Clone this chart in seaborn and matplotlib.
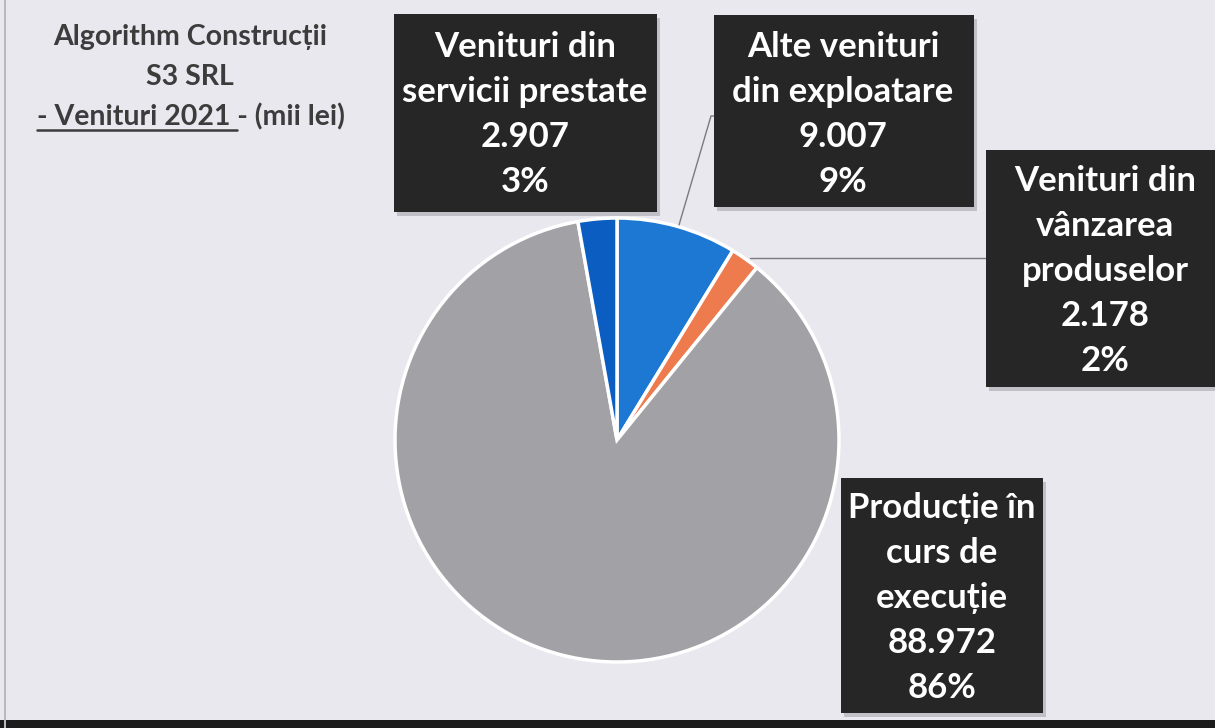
import matplotlib
matplotlib.use("Agg")
import matplotlib.pyplot as plt
import seaborn as sns
from matplotlib.patches import Rectangle
from matplotlib.lines import Line2D

# ---- data ----
categories = ["Alte venituri\ndin exploatare",
              "Venituri din\nvânzarea\nproduselor",
              "Producție în\ncurs de\nexecuție",
              "Venituri din\nservicii prestate"]
values = [9007, 2178, 88972, 2907]
colors = ["#1C78D2", "#EE7B4E", "#A2A2A6", "#0B5DC2"]
title_lines = ["Algorithm Construcții", "S3 SRL"]
title_sub_underlined = "- Venituri 2021 "
title_sub_rest = "- (mii lei)"

sns.set_theme(style="white")
plt.rcParams["font.family"] = ["Lato", "DejaVu Sans"]

W, H = 1215, 728
fig = plt.figure(figsize=(W / 100, H / 100), dpi=100)
bg = "#E8E8EE"
fig.patch.set_facecolor(bg)

def fx(x):
    return x / W

def fy(y):
    return 1 - y / H

# pie axes: centre (617, 440), radius 222 px
cx, cy, r = 617, 440, 222
ax = fig.add_axes([fx(cx - r), fy(cy + r), 2 * r / W, 2 * r / H])
ax.pie(values, colors=colors, startangle=90, counterclock=False,
       wedgeprops=dict(edgecolor="white", linewidth=2.5))
ax.set_xlim(-1, 1)
ax.set_ylim(-1, 1)
ax.set_aspect("equal")
ax.axis("off")

total = sum(values)

def fmt(v):
    return f"{v:,}".replace(",", ".")

# label boxes: (x0, y0, x1, y1, text centre x, first baseline)
boxes = {
    0: (714, 15, 974, 207, 843, 57),
    1: (986, 150, 1215, 387, 1105, 191),
    2: (841, 478, 1043, 713, 942, 518),
    3: (394, 14, 657, 212, 525, 57),
}
step = 45
for i, (x0, y0, x1, y1, tx, b0) in boxes.items():
    fig.patches.append(Rectangle((fx(x0 + 3), fy(y1 + 4)), (x1 - x0) / W, (y1 - y0) / H,
                                 transform=fig.transFigure, facecolor="#9a9aa0",
                                 edgecolor="none", alpha=0.5, zorder=1))
    fig.patches.append(Rectangle((fx(x0), fy(y1)), (x1 - x0) / W, (y1 - y0) / H,
                                 transform=fig.transFigure, facecolor="#262626",
                                 edgecolor="none", zorder=2))
    lines = categories[i].split("\n") + [fmt(values[i]), f"{round(100 * values[i] / total)}%"]
    for k, ln in enumerate(lines):
        fig.text(fx(tx), fy(b0 + k * step), ln, ha="center", va="baseline",
                 color="white", fontsize=25, fontweight="bold", zorder=3)

# leader lines
fig.add_artist(Line2D([fx(679), fx(711), fx(714)], [fy(225), fy(116), fy(116)],
                      color="#7a7a80", lw=1, zorder=1))
fig.add_artist(Line2D([fx(750), fx(986)], [fy(258), fy(258)],
                      color="#7a7a80", lw=1, zorder=1))

# title
tcol = "#3c3c3c"
tsize = 20.5
fig.text(fx(190), fy(45), title_lines[0], ha="center", va="baseline",
         color=tcol, fontsize=tsize, fontweight="bold")
fig.text(fx(190), fy(85), title_lines[1], ha="center", va="baseline",
         color=tcol, fontsize=tsize, fontweight="bold")
full = title_sub_underlined + title_sub_rest
t3 = fig.text(fx(191), fy(125), full, ha="center", va="baseline",
              color=tcol, fontsize=tsize, fontweight="bold")
fig.canvas.draw()
rend = fig.canvas.get_renderer()
bb = t3.get_window_extent(rend)
tmp = fig.text(0, 0, title_sub_underlined.rstrip(), fontsize=tsize, fontweight="bold")
wpart = tmp.get_window_extent(rend).width
tmp.remove()
ux0 = bb.x0 / fig.dpi / fig.get_figwidth()
ux1 = (bb.x0 + wpart + 7) / fig.dpi / fig.get_figwidth()
fig.add_artist(Line2D([ux0, ux1], [fy(130), fy(130)], color=tcol, lw=1.8))

# bottom dark strip and left scan edge
fig.patches.append(Rectangle((0, 0), 1, 8 / H, transform=fig.transFigure,
                             facecolor="#1c1c1c", edgecolor="none", zorder=0))
fig.patches.append(Rectangle((fx(4), 0), 2 / W, 1, transform=fig.transFigure,
                             facecolor="#b8b8be", edgecolor="none", zorder=0))

fig.savefig("out.png", dpi=100, facecolor=bg)
